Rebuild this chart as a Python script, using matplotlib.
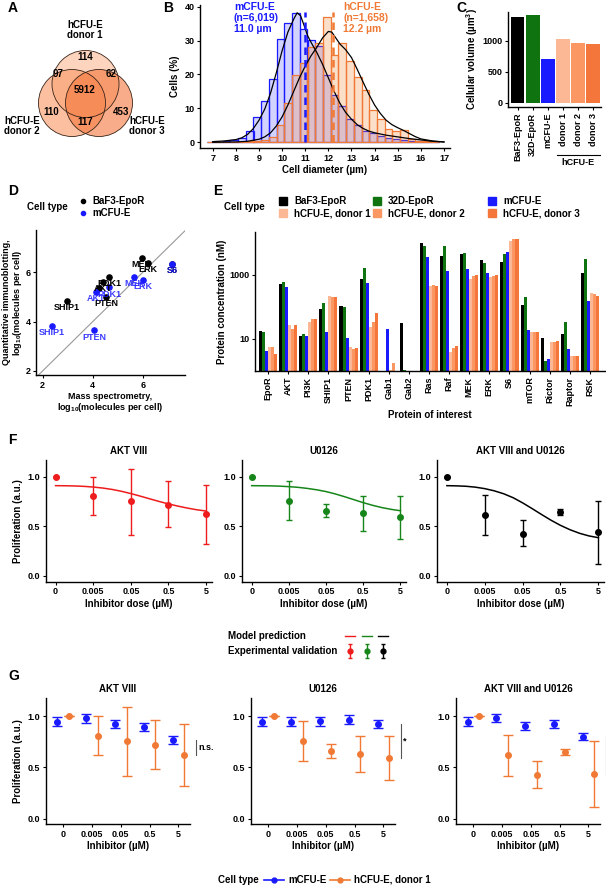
import numpy as np
import matplotlib
matplotlib.use('Agg')
import matplotlib.pyplot as plt
from matplotlib.patches import Circle

plt.rcParams['font.family'] = ['Liberation Sans', 'DejaVu Sans']
plt.rcParams['font.weight'] = 'bold'
plt.rcParams['axes.labelweight'] = 'bold'
plt.rcParams['axes.titleweight'] = 'bold'
plt.rcParams['mathtext.fontset'] = 'custom'
plt.rcParams['mathtext.rm'] = 'Liberation Sans:bold'
plt.rcParams['mathtext.default'] = 'rm'

nan = np.nan

# ---------------------------------------------------------------------------------------
"""A: Venn counts"""
venn_labels = ['114', '97', '62', '5912', '110', '453', '117']

# ---------------------------------------------------------------------------------------
"""B: cell diameter histograms"""
bin_centers = [6.93, 7.27, 7.60, 7.93, 8.27, 8.60, 8.93, 9.27, 9.60, 9.93,
               10.27, 10.60, 10.93, 11.27, 11.60, 11.93, 12.27, 12.60, 12.93, 13.27,
               13.60, 13.93, 14.27, 14.60, 14.93, 15.27, 15.60, 15.93, 16.27, 16.60]
hist_mcfue = [0.1, 0.2, 0.5, 0.7, 1.3, 3.4, 7.4, 12.3, 18.7, 30.5,
              35.3, 38.2, 33.5, 30.2, 28.3, 19.8, 14.0, 10.6, 7.0, 5.0,
              3.3, 2.6, 2.0, 1.4, 1.0, 0.7, 0.5, 0.3, 0.2, 0.1]
hist_hcfue = [0.0, 0.0, 0.1, 0.1, 0.2, 0.3, 0.5, 0.8, 1.7, 5.1,
              11.7, 19.8, 23.5, 28.2, 29.2, 37.0, 25.7, 29.4, 24.0, 19.3,
              15.4, 9.5, 6.9, 3.9, 3.3, 3.6, 0.9, 0.5, 0.3, 0.1]
dens_m_x = [7.0, 7.5, 8.0, 8.25, 8.5, 8.75, 9.0, 9.25, 9.5, 9.75, 10.0, 10.25, 10.5, 10.65,
            10.8, 10.95, 11.1, 11.25, 11.5, 11.75, 12.0, 12.25, 12.5, 12.75, 13.0, 13.25,
            13.5, 13.75, 14.0, 14.5, 15.0, 15.5, 16.0, 16.5, 17.0]
dens_m_y = [0.2, 0.4, 0.8, 1.3, 2.3, 4.0, 6.5, 9.8, 14.5, 20.5, 27, 32.5, 36.3, 38.2,
            37.3, 34.5, 31.5, 29.5, 26.5, 23, 19, 15, 11.5, 8.8, 6.8, 5.2,
            4.1, 3.3, 2.8, 2.1, 1.6, 1.1, 0.7, 0.3, 0.1]
dens_h_x = [7.0, 8.0, 8.5, 9.0, 9.25, 9.5, 9.75, 10.0, 10.25, 10.5, 10.75, 11.0, 11.25,
            11.5, 11.75, 12.0, 12.15, 12.25, 12.5, 12.75, 13.0, 13.25, 13.5, 13.75, 14.0,
            14.25, 14.5, 14.75, 15.0, 15.25, 15.5, 15.75, 16.0, 16.5, 17.0]
dens_h_y = [0.0, 0.1, 0.3, 0.9, 1.6, 2.8, 4.8, 7.5, 11, 15, 19, 22.5, 25.5,
            28, 30.8, 32.7, 32.5, 31.5, 29, 27.3, 25, 21.5, 17.8, 14.2, 11,
            8.5, 6.5, 5.2, 4.3, 3.5, 2.6, 1.7, 1.0, 0.4, 0.1]
mean_mcfue = 11.0
mean_hcfue = 12.2

# ---------------------------------------------------------------------------------------
"""C: cellular volume"""
vol_names = ['BaF3-EpoR', '32D-EpoR', 'mCFU-E', 'donor 1', 'donor 2', 'donor 3']
vol_values = [1387, 1408, 700, 1022, 968, 952]

# ---------------------------------------------------------------------------------------
"""D: mass spec vs immunoblot"""
d_black_names = ['SHIP1', 'PTEN', '', 'AKT', 'PDK1', 'MEK', 'ERK', 'S6']
d_black_x = [2.96, 4.53, 4.24, 4.40, 4.65, 5.96, 6.22, 7.18]
d_black_y = [4.83, 5.00, 5.37, 5.62, 5.80, 6.57, 6.37, 6.33]
d_blue_names = ['SHIP1', 'PTEN', 'AKT', 'PDK1', 'MEK', 'ERK', 'S6']
d_blue_x = [2.38, 4.05, 4.12, 4.65, 5.66, 6.02, 7.18]
d_blue_y = [3.83, 3.64, 5.21, 5.39, 5.80, 5.69, 6.33]

# ---------------------------------------------------------------------------------------
"""E: protein concentrations (nM)"""
proteins = ['EpoR', 'AKT', 'PI3K', 'SHIP1', 'PTEN', 'PDK1', 'Gab1', 'Gab2', 'Ras',
            'Raf', 'MEK', 'ERK', 'S6', 'mTOR', 'Rictor', 'Raptor', 'RSK']
conc_baf3 = [18, 510, 12, 87, 107, 770, nan, 31, 9700, 3900, 4400, 3000, 2600, 113, 11, 14.5, 1130]
conc_32d = [16, 620, 14, 130, 97, 1600, nan, 1.07, 8100, 8100, 4750, 2370, 4500, 200, 2.05, 33, 3100]
conc_mcfue = [4.2, 410, 12, 16, 10.5, 550, 20, nan, 3570, 1360, 1500, 1150, 5350, 18.6, 2.4, 4.7, 150]
conc_d1 = [5.8, 27, 35, 225, 5.5, 23, 1.07, nan, 460, 3.8, 750, 890, 11700, 16, 8, 2.9, 270]
conc_d2 = [5.8, 20, 42, 200, 4.9, 34, 1.8, nan, 470, 5.1, 910, 930, 13300, 16.5, 7.8, 2.9, 250]
conc_d3 = [3.5, 27, 41, 200, 5.4, 63, nan, nan, 450, 6.2, 1030, 975, 13300, 17, 8.6, 2.9, 220]
cell_types = ['BaF3-EpoR', '32D-EpoR', 'mCFU-E', 'hCFU-E, donor 1', 'hCFU-E, donor 2', 'hCFU-E, donor 3']

# ---------------------------------------------------------------------------------------
"""F / G: inhibitor experiments"""
doses = ['0', '0.005', '0.05', '0.5', '5']
treatments = ['AKT VIII', 'U0126', 'AKT VIII and U0126']
h_mean = [[1.0, 0.81, 0.753, 0.719, 0.624],
          [1.0, 0.759, 0.658, 0.634, 0.59],
          [1.0, 0.617, 0.424, 0.647, 0.44]]
h_low = [[1.0, 0.617, 0.417, 0.49, 0.322],
         [1.0, 0.566, 0.59, 0.454, 0.376],
         [1.0, 0.414, 0.302, 0.617, 0.115]]
h_high = [[1.0, 1.0, 1.085, 0.963, 0.919],
          [1.0, 0.956, 0.725, 0.807, 0.803],
          [1.0, 0.817, 0.566, 0.675, 0.756]]
m_mean = [[0.945, 0.977, 0.92, 0.89, 0.767],
          [0.945, 0.945, 0.95, 0.965, 0.92],
          [0.945, 0.98, 0.90, 0.92, 0.80]]
m_err = [[0.045, 0.045, 0.04, 0.04, 0.035],
         [0.045, 0.045, 0.045, 0.045, 0.04],
         [0.045, 0.04, 0.04, 0.04, 0.035]]
curve_x = [0, 0.25, 0.5, 0.75, 1.0, 1.25, 1.5, 1.75, 2.0, 2.25, 2.5, 2.75, 3.0, 3.25, 3.5, 3.75, 4.0]
curve_y = [[0.912, 0.911, 0.909, 0.905, 0.898, 0.888, 0.874, 0.855, 0.832, 0.806, 0.779, 0.752, 0.727, 0.705, 0.685, 0.668, 0.655],
           [0.912, 0.911, 0.910, 0.907, 0.902, 0.895, 0.884, 0.870, 0.852, 0.828, 0.800, 0.770, 0.740, 0.713, 0.690, 0.672, 0.658],
           [0.912, 0.910, 0.906, 0.897, 0.882, 0.860, 0.830, 0.790, 0.738, 0.680, 0.620, 0.562, 0.510, 0.466, 0.430, 0.403, 0.385]]
signif = ['n.s.', '*', '*']

# colours
BLUE = '#1a1aff'
ORANGE = '#f07a35'
GREEN = '#0f740f'
RED = '#ee1c1c'
D1, D2, D3 = '#fcb894', '#fb9762', '#f4763a'
type_colors = ['black', GREEN, BLUE, D1, D2, D3]
f_colors = [RED, '#17861a', 'black']

W, H = 606, 886
fig = plt.figure(figsize=(W / 100, H / 100), dpi=100)
TS = 6.5   # tick size
LS = 7     # axis label size


def px_axes(l, t, r, b):
    return fig.add_axes([l / W, 1 - b / H, (r - l) / W, (b - t) / H])


def style(ax):
    for s in ['top', 'right']:
        ax.spines[s].set_visible(False)
    for s in ['left', 'bottom']:
        ax.spines[s].set_linewidth(1.0)
    ax.tick_params(labelsize=TS, length=2.5, width=0.8, pad=1.5)


ov = fig.add_axes([0, 0, 1, 1], zorder=10)
ov.set_xlim(0, W)
ov.set_ylim(H, 0)
ov.axis('off')
ov.patch.set_alpha(0)

for letter, x, y in [('A', 8, 8), ('B', 163, 8), ('C', 456, 8), ('D', 8, 191),
                     ('E', 213, 191), ('F', 8, 440), ('G', 8, 676)]:
    ov.text(x, y, letter, fontsize=10, fontweight='bold', va='center', ha='left')

# ---------------------------------------------------------------------------------------
"""A"""
axA = px_axes(0, 20, 165, 165)
axA.set_xlim(0, 165)
axA.set_ylim(165, 20)
axA.axis('off')
for (cx, cy), c in zip([(85.5, 84), (72, 103), (99, 103)], [D1, D2, D3]):
    axA.add_patch(Circle((cx, cy), 33.5, facecolor=c, alpha=0.6, edgecolor='none'))
for (cx, cy) in [(85.5, 84), (72, 103), (99, 103)]:
    axA.add_patch(Circle((cx, cy), 33.5, facecolor='none', edgecolor='#3a2418', lw=0.6))
venn_pos = [(85, 57), (58, 74), (111, 74), (85, 90), (51, 112), (121, 112), (85, 122)]
for s, (x, y) in zip(venn_labels, venn_pos):
    axA.text(x, y, s, fontsize=7, ha='center', va='center')
axA.text(85, 30, 'hCFU-E\ndonor 1', fontsize=7, ha='center', va='center', linespacing=1.1)
axA.text(22, 126, 'hCFU-E\ndonor 2', fontsize=7, ha='center', va='center', linespacing=1.1)
ov.text(147, 126, 'hCFU-E\ndonor 3', fontsize=7, ha='center', va='center', linespacing=1.1)

# ---------------------------------------------------------------------------------------
"""B"""
axB = px_axes(200, 5, 450, 148)
style(axB)
axB.bar(bin_centers, hist_mcfue, width=1 / 3, facecolor=(0.15, 0.15, 1, 0.2), edgecolor=BLUE, lw=0.9)
axB.bar(bin_centers, hist_hcfue, width=1 / 3, facecolor=(0.97, 0.55, 0.25, 0.28), edgecolor=ORANGE, lw=0.9)
axB.plot(dens_m_x, dens_m_y, color='black', lw=0.9)
axB.plot(dens_h_x, dens_h_y, color='black', lw=0.9)
axB.vlines(mean_mcfue, 0, 38.5, color=BLUE, ls=(0, (3, 2)), lw=1.8)
axB.vlines(mean_hcfue, 0, 38.5, color=ORANGE, ls=(0, (3, 2)), lw=1.8)
axB.set_xlim(6.45, 17.26)
axB.set_ylim(-1.68, 40.5)
axB.set_xticks(range(7, 18))
axB.set_yticks([0, 10, 20, 30, 40])
axB.set_xlabel('Cell diameter (µm)', fontsize=LS, labelpad=2)
axB.set_ylabel('Cells (%)', fontsize=LS, labelpad=3)
ov.text(234, 2, 'mCFU-E\n(n=6,019)\n11.0 µm', color=BLUE, fontsize=7.5, va='top', ha='left', linespacing=1.15)
ov.text(343, 2, 'hCFU-E\n(n=1,658)\n12.2 µm', color=ORANGE, fontsize=7.5, va='top', ha='left', linespacing=1.15)

# ---------------------------------------------------------------------------------------
"""C"""
axC = px_axes(508, 12, 601, 107)
style(axC)
xc = np.arange(1, len(vol_values) + 1)
axC.bar(xc, vol_values, width=0.9, color=type_colors)
axC.set_xlim(0.36, 6.51)
axC.set_ylim(-69, 1463)
axC.set_yticks([0, 500, 1000])
axC.set_xticks(xc)
axC.set_xticklabels(vol_names, rotation=90)
axC.set_ylabel('Cellular volume (µm$^3$)', fontsize=LS, labelpad=2)
ov.plot([557, 600], [155, 155], color='black', lw=0.8)
ov.text(578, 162, 'hCFU-E', fontsize=TS, ha='center', va='center')

# ---------------------------------------------------------------------------------------
"""D"""
axD = px_axes(36, 230, 185, 375)
style(axD)
axD.plot([1.73, 7.72], [1.73, 7.72], color='#999999', lw=0.8)
axD.scatter(d_black_x, d_black_y, s=14, color='black', zorder=3)
axD.scatter(d_blue_x, d_blue_y, s=14, color=BLUE, zorder=3)
for n, x, y in zip(d_black_names, d_black_x, d_black_y):
    axD.text(x, y - 0.27, n, fontsize=6.5, color='black', ha='center', va='center')
for n, x, y in zip(d_blue_names, d_blue_x, d_blue_y):
    axD.text(x, y - 0.27, n, fontsize=6.5, color=BLUE, ha='center', va='center', alpha=0.85)
axD.set_xlim(1.73, 7.69)
axD.set_ylim(1.83, 7.72)
axD.set_xticks([2, 4, 6])
axD.set_yticks([2, 4, 6])
axD.set_xlabel('Mass spectrometry,\nlog$_{10}$(molecules per cell)', fontsize=6.5, labelpad=2,
               linespacing=1.0)
axD.set_ylabel('Quantitative immunoblotting,\nlog$_{10}$(molecules per cell)', fontsize=6.5,
               labelpad=1, linespacing=1.0)
ov.text(47, 207, 'Cell type', fontsize=LS, ha='center', va='center')
ov.plot([83], [201], 'o', color='black', ms=3)
ov.plot([83], [213], 'o', color=BLUE, ms=3)
ov.text(92, 201, 'BaF3-EpoR', fontsize=LS, va='center')
ov.text(92, 213, 'mCFU-E', fontsize=LS, va='center')

# ---------------------------------------------------------------------------------------
"""E"""
axE = px_axes(255, 232, 605, 371)
style(axE)
axE.set_yscale('log')
xe = np.arange(len(proteins))
series = [conc_baf3, conc_32d, conc_mcfue, conc_d1, conc_d2, conc_d3]
for i, (vals, c) in enumerate(zip(series, type_colors)):
    v = np.array(vals, dtype=float)
    axE.bar(xe + (i - 2.5) * 0.15, v - 1, bottom=1, width=0.15, color=c)
axE.set_xlim(-0.65, 16.75)
axE.set_ylim(1, 10 ** 4.34)
axE.set_yticks([10, 1000])
axE.set_yticklabels(['10', '1000'])
axE.minorticks_off()
axE.set_xticks(xe)
axE.set_xticklabels(proteins, rotation=90)
axE.set_xlabel('Protein of interest', fontsize=LS, labelpad=3)
axE.set_ylabel('Protein concentration (nM)', fontsize=LS, labelpad=2)
ov.text(244, 207, 'Cell type', fontsize=LS, ha='center', va='center')
leg_x = [283, 377, 492]
for i, (name, c) in enumerate(zip(cell_types, type_colors)):
    x = leg_x[i % 3]
    y = 201 if i < 3 else 213
    ov.plot([x], [y], 's', color=c, ms=6)
    ov.text(x + 11, y, name, fontsize=LS, va='center')

# ---------------------------------------------------------------------------------------
"""F"""
f_boxes = [(45.8, 460, 211.7, 581.7), (242, 460, 406, 581.7), (437, 460, 604, 581.7)]
xd = np.arange(len(doses))
for k, box in enumerate(f_boxes):
    ax = px_axes(*box)
    style(ax)
    c = f_colors[k]
    ax.plot(curve_x, curve_y[k], color=c, lw=1.1)
    mean = np.array(h_mean[k])
    lo = mean - np.array(h_low[k])
    hi = np.array(h_high[k]) - mean
    ax.errorbar(xd, mean, yerr=[lo, hi], fmt='o', color=c, ms=4, capsize=2, elinewidth=1, capthick=1)
    ax.set_xlim(-0.26, 4.15)
    ax.set_ylim(-0.061, 1.172)
    ax.set_xticks(xd)
    ax.set_xticklabels(doses)
    ax.set_yticks([0, 0.5, 1.0])
    ax.set_yticklabels(['0.0', '0.5', '1.0'])
    ax.set_title(treatments[k], fontsize=LS, pad=4)
    ax.set_xlabel('Inhibitor dose (µM)', fontsize=LS, labelpad=2)
    if k == 0:
        ax.set_ylabel('Proliferation (a.u.)', fontsize=LS, labelpad=3)

ov.text(228, 636, 'Model prediction', fontsize=LS, va='center')
ov.text(228, 651, 'Experimental validation', fontsize=LS, va='center')
for x, c in zip([350, 367, 383], f_colors):
    ov.plot([x - 5, x + 5], [636, 636], color=c, lw=1)
    ov.errorbar([x], [651], yerr=[[7], [7]], fmt='o', color=c, ms=3.5, capsize=1.5, elinewidth=1)

# ---------------------------------------------------------------------------------------
"""G"""
g_boxes = [(45.8, 698, 190, 824), (250.6, 698, 395, 824), (456, 698, 600, 824)]
for k, box in enumerate(g_boxes):
    ax = px_axes(*box)
    style(ax)
    mean = np.array(h_mean[k])
    lo = mean - np.array(h_low[k])
    hi = np.array(h_high[k]) - mean
    ax.errorbar(xd - 0.2, m_mean[k], yerr=m_err[k], fmt='o', color=BLUE, ms=4, capsize=3.5,
                elinewidth=1, capthick=1)
    ax.errorbar(xd + 0.2, mean, yerr=[lo, hi], fmt='o', color=ORANGE, ms=4, capsize=3.5,
                elinewidth=1, capthick=1)
    ax.plot([4.6, 4.6], [h_mean[k][4], m_mean[k][4]], color='#555555', lw=0.8, clip_on=False)
    ax.text(4.68, (h_mean[k][4] + m_mean[k][4]) / 2, signif[k], fontsize=TS, va='center',
            ha='left', clip_on=False)
    ax.set_xlim(-0.6, 4.4)
    ax.set_ylim(-0.049, 1.175)
    ax.set_xticks(xd)
    ax.set_xticklabels(doses)
    ax.set_yticks([0, 0.5, 1.0])
    ax.set_yticklabels(['0.0', '0.5', '1.0'])
    ax.set_title(treatments[k], fontsize=LS, pad=4)
    ax.set_xlabel('Inhibitor (µM)', fontsize=LS, labelpad=2)
    if k == 0:
        ax.set_ylabel('Proliferation (a.u.)', fontsize=LS, labelpad=3)

ov.text(238, 880, 'Cell type', fontsize=LS, va='center', ha='center')
ov.plot([264, 284], [880, 880], color=BLUE, lw=1.2)
ov.plot([274], [880], 'o', color=BLUE, ms=3.5)
ov.text(288, 880, 'mCFU-E', fontsize=LS, va='center')
ov.plot([330, 350], [880, 880], color=ORANGE, lw=1.2)
ov.plot([340], [880], 'o', color=ORANGE, ms=3.5)
ov.text(354, 880, 'hCFU-E, donor 1', fontsize=LS, va='center')

fig.savefig('out.png', dpi=100, facecolor='white')
